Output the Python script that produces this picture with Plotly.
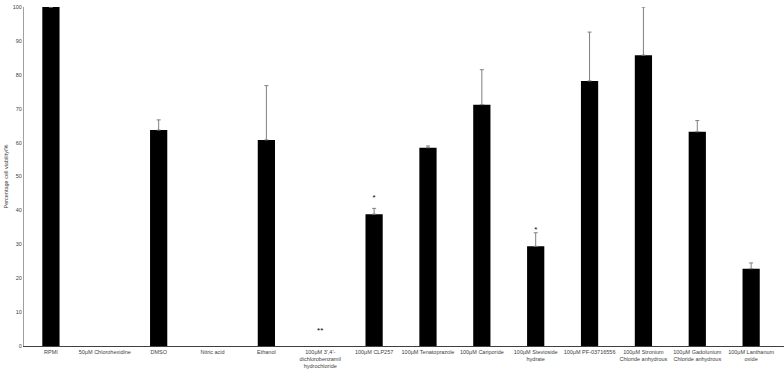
import plotly.graph_objects as go

categories = [
    "RPMI", "50µM Chlorohexidine", "DMSO", "Nitric acid", "Ethanol",
    "100µM 3',4'-<br>dichlorobenzamil<br>hydrochloride", "100µM CLP257",
    "100µM Tenatoprazole", "100µM Cariporide", "100µM Stevioside<br>hydrate",
    "100µM PF-03716556", "100µM Stronium<br>Chloride anhydrous",
    "100µM Gadolunium<br>Chloride anhydrous", "100µM Lanthanum<br>oxide",
]
viability = [100, None, 63.7, None, 60.8, None, 38.9, 58.5, 71.2, 29.4, 78.2, 85.8, 63.2, 22.8]
error_up = [0, 0, 3.0, 0, 16.0, 0, 1.7, 0.5, 10.3, 4.0, 14.4, 14.2, 3.3, 1.7]
sig_labels = ["", "", "", "", "", "**", "*", "", "", "*", "", "", "", ""]
sig_y = [None, None, None, None, None, 4.5, 43.7, None, None, 34.2, None, None, None, None]

x_idx = list(range(len(categories)))

fig = go.Figure()
fig.add_trace(go.Bar(
    x=x_idx, y=viability, width=0.32,
    marker=dict(color="black", line=dict(width=0)),
    error_y=dict(type="data", symmetric=False, array=error_up,
                 arrayminus=[0] * len(error_up),
                 color="#7f7f7f", thickness=1, width=2),
    showlegend=False,
))
fig.add_trace(go.Scatter(
    x=x_idx, y=sig_y, mode="text", text=sig_labels,
    textfont=dict(size=8, color="black", family="Liberation Sans"),
    textposition="middle center", showlegend=False,
))

fig.update_layout(
    width=784, height=376,
    margin=dict(l=24, r=0, t=7, b=30),
    plot_bgcolor="white", paper_bgcolor="white",
    font=dict(family="Liberation Sans", size=5.5, color="#404040"),
    xaxis=dict(
        tickmode="array", tickvals=x_idx, ticktext=categories,
        range=[-0.5, len(categories) - 0.39],
        showline=True, linecolor="#404040", linewidth=1,
        ticks="", showgrid=False, zeroline=False, tickangle=0,
        tickfont=dict(size=5.5, color="#404040"), automargin=False,
    ),
    yaxis=dict(
        range=[0, 100], dtick=10, showline=True, linecolor="#a0a0a0",
        linewidth=1, ticks="", showgrid=False, zeroline=False,
        tickfont=dict(size=5.5, color="#404040"), automargin=False,
    ),
    annotations=[dict(
        text="Percentage cell viability/%", xref="paper", yref="paper",
        x=0, y=0.5, xanchor="center", yanchor="middle", xshift=-19,
        textangle=-90, showarrow=False, font=dict(size=5.5, color="#404040"),
    )],
)

fig.write_html(
    "out.html",
    config={"displayModeBar": False},
    post_script="document.body.style.margin='0';document.body.style.overflow='hidden';",
)
